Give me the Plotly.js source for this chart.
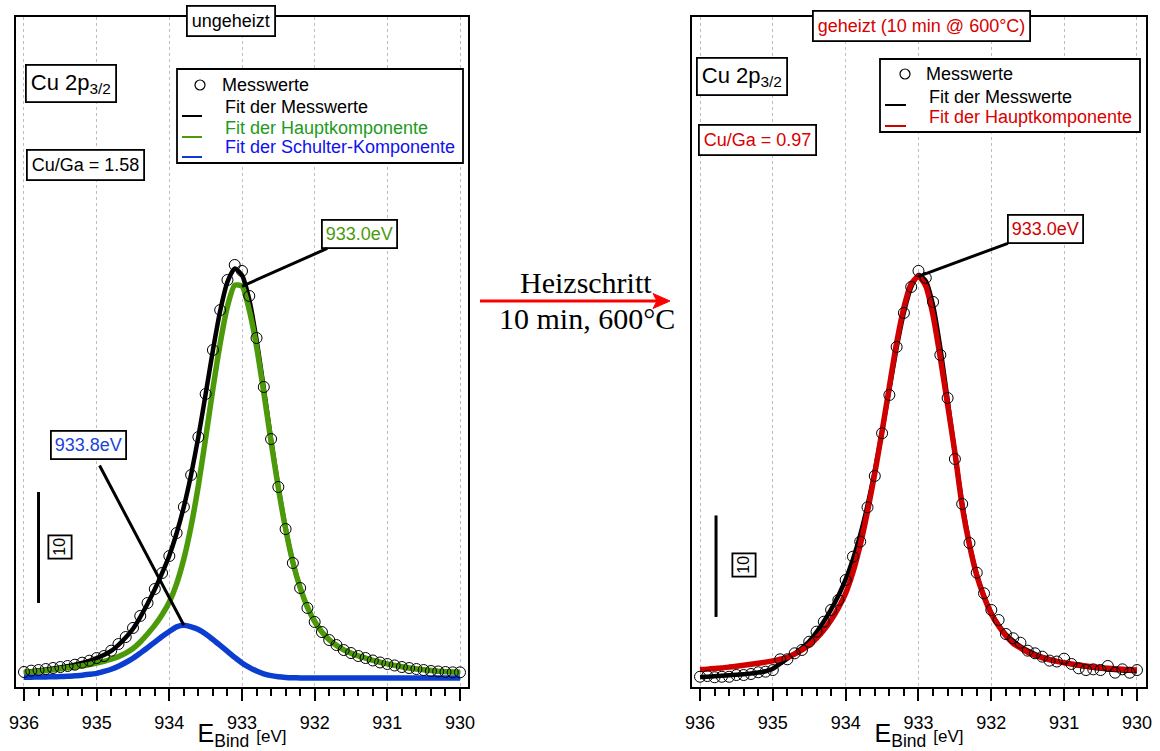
<!DOCTYPE html>
<html><head><meta charset="utf-8">
<script src="https://cdn.plot.ly/plotly-3.0.1.min.js"></script>
<style>html,body{margin:0;padding:0;background:#fff;}#chart{width:1160px;height:751px;}</style>
</head><body><div id="chart"></div>
<script>
// ---------- data ----------
const energy = [936.0,935.9,935.8,935.7,935.6,935.5,935.4,935.3,935.2,935.1,
  935.0,934.9,934.8,934.7,934.6,934.5,934.4,934.3,934.2,934.1,
  934.0,933.9,933.8,933.7,933.6,933.5,933.4,933.3,933.2,933.1,
  933.0,932.9,932.8,932.7,932.6,932.5,932.4,932.3,932.2,932.1,
  932.0,931.9,931.8,931.7,931.6,931.5,931.4,931.3,931.2,931.1,
  931.0,930.9,930.8,930.7,930.6,930.5,930.4,930.3,930.2,930.1,930.0];

// left panel: ungeheizt
const leftMeasured = [1.35,1.47,1.53,1.62,1.71,1.80,1.89,2.01,2.19,2.37,
  2.61,2.79,3.27,3.87,4.50,5.32,6.40,7.57,8.83,10.27,
  11.80,13.87,16.22,19.10,22.52,26.40,30.36,33.96,36.67,38.02,
  37.48,35.23,31.44,27.03,22.34,18.02,14.23,11.17,8.92,7.12,
  5.86,4.95,4.23,3.78,3.33,3.06,2.79,2.61,2.39,2.21,
  2.07,1.94,1.80,1.71,1.62,1.53,1.44,1.40,1.35,1.32,1.32];
const leftFitTotal = [1.35,1.42,1.50,1.58,1.67,1.77,1.88,2.01,2.17,2.36,
  2.60,2.88,3.25,3.80,4.45,5.25,6.30,7.50,8.80,10.25,
  11.85,13.85,16.25,19.15,22.55,26.40,30.35,33.90,36.50,37.70,
  37.10,34.90,31.30,26.90,22.30,18.05,14.30,11.25,8.95,7.20,
  5.90,4.95,4.25,3.75,3.35,3.05,2.80,2.60,2.40,2.23,
  2.08,1.95,1.83,1.72,1.63,1.55,1.48,1.42,1.38,1.35,1.32];
const leftFitMain = [1.29,1.35,1.41,1.48,1.56,1.64,1.73,1.81,1.92,2.03,
  2.16,2.31,2.50,2.74,3.05,3.47,4.06,4.78,5.57,6.51,
  7.66,9.30,11.55,14.51,18.18,22.44,26.88,30.97,34.30,36.20,
  36.10,33.95,30.67,26.52,22.09,17.94,14.25,11.23,8.95,7.20,
  5.90,4.95,4.25,3.75,3.35,3.05,2.80,2.60,2.40,2.23,
  2.08,1.95,1.83,1.72,1.63,1.55,1.48,1.42,1.38,1.35,1.32];
const leftFitShoulder = [0.87,0.88,0.90,0.91,0.92,0.94,0.96,1.01,1.06,1.14,
  1.23,1.40,1.60,1.87,2.21,2.59,3.05,3.53,4.04,4.55,
  5.00,5.42,5.56,5.42,5.18,4.77,4.28,3.74,3.20,2.66,
  2.16,1.76,1.44,1.19,1.02,0.92,0.86,0.83,0.82,0.81,
  0.81,0.81,0.81,0.81,0.81,0.81,0.81,0.81,0.81,0.81,
  0.81,0.81,0.81,0.81,0.81,0.81,0.81,0.81,0.81,0.81,0.81];

// right panel: geheizt (10 min @ 600 °C)
const rightMeasured = [1.01,1.08,0.96,1.01,1.01,1.18,1.18,1.28,1.45,1.51,
  1.67,2.73,2.73,3.32,3.65,4.46,5.45,6.43,7.59,8.57,
  10.54,12.84,14.32,17.70,20.79,25.00,28.77,33.50,36.85,39.41,
  40.99,40.30,37.93,32.71,28.47,22.46,18.03,14.19,11.26,9.23,
  7.59,6.60,5.22,4.80,4.36,3.58,3.32,2.99,2.60,2.51,
  2.79,2.27,1.84,1.67,1.74,1.67,2.07,1.41,1.74,1.41,1.67];
const rightFitTotal = [0.98,1.02,1.06,1.10,1.15,1.20,1.26,1.33,1.42,1.55,
  1.80,2.30,2.80,3.30,3.85,4.50,5.40,6.45,7.65,9.00,
  10.60,12.60,15.00,17.90,21.30,25.20,29.30,33.40,36.90,39.40,
  40.60,40.00,37.60,33.40,28.30,23.00,18.10,14.10,11.10,8.90,
  7.30,6.10,5.20,4.55,4.00,3.60,3.25,2.98,2.75,2.55,
  2.38,2.23,2.10,1.99,1.89,1.81,1.74,1.68,1.63,1.59,1.56];
const rightFitMain = [1.72,1.76,1.82,1.88,1.96,2.05,2.14,2.24,2.34,2.45,
  2.57,2.73,2.93,3.25,3.65,4.15,4.80,5.60,6.60,7.80,
  9.23,11.30,14.00,17.30,21.05,25.20,29.60,33.90,37.40,39.70,
  40.45,39.50,36.60,32.40,27.80,23.10,17.80,14.00,11.00,8.90,
  7.20,6.00,5.05,4.31,3.85,3.42,3.10,2.88,2.68,2.52,
  2.39,2.28,2.17,2.07,1.98,1.91,1.85,1.79,1.74,1.70,1.67];

const xTickVals = [936, 935, 934, 933, 932, 931, 930];
const xTickText = ['936', '935', '934', '933', '932', '931', '930'];
const xTitle = 'E<sub>Bind</sub> <span style="font-size:17px">[eV]</span>';
const peakMain = 933.0;      // eV, main component (both panels)
const peakShoulder = 933.8;  // eV, shoulder component (left panel)
const scaleBarLength = 10;   // intensity units of the scale bar

// ---------- layout helpers ----------
const W = 1160, H = 751;
const FONT = 'Liberation Sans, Arial, Helvetica, sans-serif';
const SERIF = 'Liberation Serif, Times New Roman, serif';
const C_GREEN = '#4c9a0a', C_BLUE = '#0b3dd0', C_RED = '#d00000';
const T_GREEN = '#1e9a1e', T_BLUE = '#1010f0', T_RED = '#d80000';
const px = v => v / W, py = v => 1 - v / H;
const valAt = (arr, e) => arr[energy.indexOf(e)];

function box(text, cx, cy, size, color, extra) {
  return Object.assign({xref:'paper', yref:'paper', x:px(cx), y:py(cy), xanchor:'center', yanchor:'middle',
    text:text, showarrow:false, font:{family:FONT, size:size, color:color},
    bgcolor:'#fff', bordercolor:'#000', borderwidth:1.8, borderpad:4}, extra || {});
}
function label(text, lx, cy, color) {
  return {xref:'paper', yref:'paper', x:px(lx), y:py(cy), xanchor:'left', yanchor:'middle',
    text:text, showarrow:false, font:{family:FONT, size:18, color:color}};
}
function peakLabel(xa, ya, x, y, ax, ay, color, extra) {
  return Object.assign({xref:xa, yref:ya, x:x, y:y, ax:ax, ay:ay, text:x.toFixed(1) + 'eV',
    showarrow:true, arrowhead:0, arrowwidth:3, arrowcolor:'#000', font:{family:FONT, size:18, color:color},
    bgcolor:'#fff', bordercolor:'#000', borderwidth:1.8, borderpad:3}, extra || {});
}
function legendLine(x0, x1, y, color) {
  return {type:'line', xref:'paper', yref:'paper', layer:'above', x0:px(x0), x1:px(x1), y0:py(y), y1:py(y),
    line:{color:color, width:2}};
}
function legendCircle(cx, cy) {
  return {type:'circle', xref:'paper', yref:'paper', layer:'above', x0:px(cx-5), x1:px(cx+5), y0:py(cy+5), y1:py(cy-5),
    line:{color:'#000', width:1.2}};
}
function legendFrame(x0, y0, x1, y1) {
  return {type:'rect', xref:'paper', yref:'paper', layer:'above', x0:px(x0), x1:px(x1), y0:py(y1), y1:py(y0),
    line:{color:'#000', width:1.8}, fillcolor:'#fff'};
}

// ---------- traces ----------
const lineTrace = (y, color, width, xa, ya) => ({x:energy, y:y, mode:'lines', xaxis:xa, yaxis:ya,
  line:{color:color, width:width, shape:'spline', smoothing:0.6}, showlegend:false, hoverinfo:'skip'});
const markerTrace = (y, xa, ya) => ({x:energy, y:y, mode:'markers', xaxis:xa, yaxis:ya, showlegend:false,
  marker:{symbol:'circle-open', size:11, color:'#000', line:{width:1, color:'#000'}}});

const data = [
  lineTrace(leftFitTotal, '#000', 4.5, 'x', 'y'),
  lineTrace(leftFitMain, C_GREEN, 5.5, 'x', 'y'),
  lineTrace(leftFitShoulder, C_BLUE, 5.5, 'x', 'y'),
  markerTrace(leftMeasured, 'x', 'y'),
  lineTrace(rightFitTotal, '#000', 4.5, 'x2', 'y2'),
  lineTrace(rightFitMain, C_RED, 5.5, 'x2', 'y2'),
  markerTrace(rightMeasured, 'x2', 'y2')
];

// ---------- axes ----------
const xBase = {
  tickmode:'array', tickvals:xTickVals, ticktext:xTickText,
  ticks:'outside', ticklen:12, tickwidth:2, tickcolor:'#000', ticklabelstandoff:6,
  tickfont:{family:FONT, size:18, color:'#000'},
  title:{text:xTitle, font:{family:FONT, size:25, color:'#000'}, standoff:0},
  showline:true, mirror:true, linecolor:'#000', linewidth:2,
  showgrid:true, gridcolor:'#bdbdbd', griddash:'dot', gridwidth:1, zeroline:false,
  minor:{tickmode:'linear', tick0:930, dtick:0.2, ticks:'outside', ticklen:7, tickwidth:2, tickcolor:'#000', showgrid:false},
  fixedrange:true
};
const yBase = {showline:true, mirror:true, linecolor:'#000', linewidth:2, ticks:'', showticklabels:false,
  showgrid:false, zeroline:false, fixedrange:true, domain:[py(687), py(17)]};

const layout = {
  width:W, height:H, margin:{l:0, r:0, t:0, b:0}, paper_bgcolor:'#fff', plot_bgcolor:'#fff',
  showlegend:false, font:{family:FONT, color:'#000'},
  xaxis: Object.assign({}, xBase, {domain:[px(16), px(468)], range:[936.11, 929.89], anchor:'y'}),
  yaxis: Object.assign({}, yBase, {range:[0, 60.36], anchor:'x'}),
  xaxis2: Object.assign({}, xBase, {domain:[px(692), px(1146)], range:[936.11, 929.876], anchor:'y2'}),
  yaxis2: Object.assign({}, yBase, {range:[0, 66.0], anchor:'x2'}),
  shapes: [
    // scale bars (10 intensity units)
    {type:'line', xref:'x', yref:'y', x0:935.8, x1:935.8, y0:7.57, y1:7.57 + scaleBarLength, line:{color:'#000', width:3}},
    {type:'line', xref:'x2', yref:'y2', x0:935.78, x1:935.78, y0:6.9, y1:6.9 + scaleBarLength, line:{color:'#000', width:3}},
    // legend frames and symbols
    legendFrame(177, 69, 463, 163),
    legendCircle(200, 85),
    legendLine(182, 202, 116, '#000'),
    legendLine(182, 202, 137, C_GREEN),
    legendLine(182, 202, 157, C_BLUE),
    legendFrame(880, 59, 1140, 132),
    legendCircle(905, 74),
    legendLine(885, 906, 105, '#000'),
    legendLine(885, 906, 126, C_RED),
    // heating step arrow between the panels
    {type:'line', xref:'paper', yref:'paper', x0:px(480), x1:px(660), y0:py(301), y1:py(301),
      line:{color:'#ff0000', width:3}},
    {type:'path', xref:'paper', yref:'paper',
      path:'M ' + px(670) + ' ' + py(301) + ' L ' + px(653) + ' ' + py(293.5) + ' L ' + px(657) + ' ' + py(301) +
           ' L ' + px(653) + ' ' + py(308.5) + ' Z',
      line:{color:'#ff0000', width:1}, fillcolor:'#ff0000'}
  ],
  annotations: [
    // left panel
    box('ungeheizt', 231, 21.5, 18, '#000'),
    box('Cu 2p<sub>3/2</sub>', 71, 83.5, 22, '#000'),
    box('Cu/Ga = 1.58', 85.5, 165, 18, '#000'),
    label('Messwerte', 220, 85, '#000'),
    label('Fit der Messwerte', 223, 107, '#000'),
    label('Fit der Hauptkomponente', 223, 128, T_GREEN),
    label('Fit der Schulter-Komponente', 223, 147, T_BLUE),
    peakLabel('x', 'y', peakMain, valAt(leftFitMain, peakMain), 117, -52, C_GREEN),
    peakLabel('x', 'y', peakShoulder, valAt(leftFitShoulder, peakShoulder), -95, -180, '#1a44d6', {startstandoff:7}),
    box(String(scaleBarLength), 60, 547.5, 16, '#000', {textangle:-90, borderpad:2}),
    // right panel
    box('geheizt (10 min @ 600°C)', 921.5, 25.5, 18, T_RED),
    box('Cu 2p<sub>3/2</sub>', 741.5, 76, 22, '#000'),
    box('Cu/Ga = 0.97', 757, 140, 18, T_RED),
    label('Messwerte', 924, 74, '#000'),
    label('Fit der Messwerte', 927, 97, '#000'),
    label('Fit der Hauptkomponente', 927, 117, T_RED),
    peakLabel('x2', 'y2', peakMain, valAt(rightFitMain, peakMain), 127, -47, C_RED),
    box(String(scaleBarLength), 743.5, 565, 16, '#000', {textangle:-90, borderpad:2}),
    // heating step text
    {xref:'paper', yref:'paper', x:px(586), y:py(282), xanchor:'center', yanchor:'middle', showarrow:false,
      text:'Heizschritt', font:{family:SERIF, size:30, color:'#000'}},
    {xref:'paper', yref:'paper', x:px(587), y:py(318), xanchor:'center', yanchor:'middle', showarrow:false,
      text:'10 min, 600°C', font:{family:SERIF, size:30, color:'#000'}}
  ]
};

Plotly.newPlot('chart', data, layout, {staticPlot:true, displayModeBar:false});
</script>
</body></html>
